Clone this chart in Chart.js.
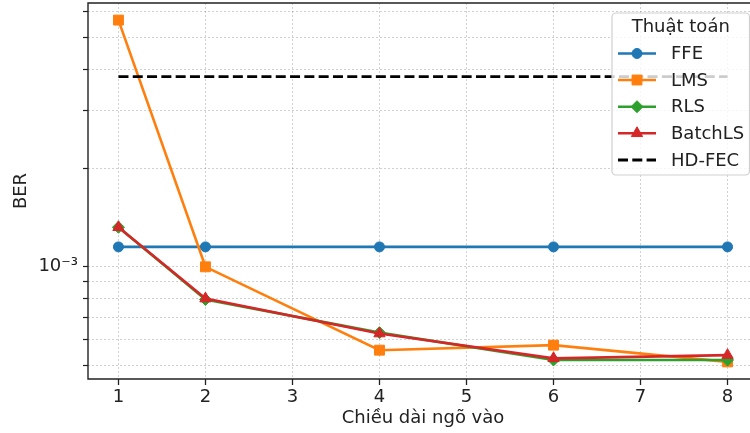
<!DOCTYPE html>
<html>
<head>
<meta charset="utf-8">
<script src="https://cdn.jsdelivr.net/npm/chart.js@4.4.1/dist/chart.umd.min.js"></script>
<style>
  html, body { margin: 0; padding: 0; background: #fff; overflow: hidden; }
  #wrap { width: 750px; height: 433px; overflow: hidden; position: relative; }
  #c { position: absolute; left: 0; top: 0; }
</style>
</head>
<body>
<div id="wrap"><canvas id="c" width="758" height="433"></canvas></div>
<script>
// ---- data ----
const inputLengths = [1, 2, 4, 6, 8];
const ffeBER     = [1.15e-3, 1.15e-3, 1.15e-3, 1.15e-3, 1.15e-3];
const lmsBER     = [5.65e-3, 1.0e-3, 5.57e-4, 5.77e-4, 5.13e-4];
const rlsBER     = [1.32e-3, 7.95e-4, 6.3e-4, 5.2e-4, 5.2e-4];
const batchLSBER = [1.32e-3, 8.0e-4, 6.26e-4, 5.26e-4, 5.38e-4];
const hdFecBER   = 3.8e-3;
const hdFecRange = [1, 8];
const seriesNames = ['FFE', 'LMS', 'RLS', 'BatchLS', 'HD-FEC'];
const xTickValues = [1, 2, 3, 4, 5, 6, 7, 8];
const yTickValues = [5e-4, 6e-4, 7e-4, 8e-4, 9e-4, 1e-3, 2e-3, 3e-3, 4e-3, 5e-3, 6e-3];
const legendTitle = 'Thuật toán';
const xTitle = 'Chiều dài ngõ vào';
const yTitle = 'BER';

const FONT = 'DejaVu Sans';
const colors = ['#1f77b4', '#ff7f0e', '#2ca02c', '#d62728', '#000000'];
const styles = ['circle', 'rect', 'rectRot', 'triangle', null];
const radii = [5, 7, 6, 6.5, 0];

const toPts = arr => inputLengths.map((x, i) => ({x: x, y: arr[i]}));
const seriesData = [ffeBER, lmsBER, rlsBER, batchLSBER];

const datasets = seriesData.map((arr, i) => ({
  label: seriesNames[i],
  data: toPts(arr),
  borderColor: colors[i],
  backgroundColor: colors[i],
  borderWidth: 2.6,
  pointStyle: styles[i],
  pointRadius: radii[i],
  pointBorderWidth: 1,
  pointBackgroundColor: colors[i],
  pointBorderColor: colors[i],
  tension: 0,
  order: 5 - i
}));
datasets.push({
  label: seriesNames[4],
  data: hdFecRange.map(x => ({x: x, y: hdFecBER})),
  borderColor: '#000',
  borderWidth: 2.8,
  borderDash: [10, 4.3],
  pointRadius: 0,
  order: 0
});

const spinePlugin = {
  id: 'spines',
  afterDatasetsDraw(chart) {
    const {ctx, chartArea: a} = chart;
    ctx.save();
    ctx.strokeStyle = '#222';
    ctx.lineWidth = 1.4;
    ctx.setLineDash([]);
    ctx.beginPath();
    ctx.moveTo(a.right, a.bottom); ctx.lineTo(a.left, a.bottom);
    ctx.lineTo(a.left, a.top); ctx.lineTo(a.right, a.top);
    ctx.lineTo(a.right, a.bottom);
    ctx.stroke();
    ctx.restore();
  }
};

function drawMarker(ctx, style, x, y, r) {
  Chart.helpers.drawPoint(ctx, {pointStyle: style, radius: r, borderWidth: 1, rotation: 0}, x, y);
}

const legendPlugin = {
  id: 'customLegend',
  afterDraw(chart) {
    const ctx = chart.ctx;
    const bx = 612, by = 13, bw = 137.5, bh = 162;
    ctx.save();
    ctx.beginPath();
    ctx.roundRect(bx, by, bw, bh, 4);
    ctx.fillStyle = 'rgba(255,255,255,0.8)';
    ctx.fill();
    ctx.strokeStyle = '#d0d0d0';
    ctx.lineWidth = 1.2;
    ctx.stroke();

    ctx.font = '18px "' + FONT + '"';
    ctx.fillStyle = '#222';
    ctx.textBaseline = 'middle';
    ctx.textAlign = 'center';
    ctx.fillText(legendTitle, bx + bw / 2, 27);

    ctx.textAlign = 'left';
    const rowY = [53.5, 80, 106.7, 133.3, 160];
    for (let i = 0; i < 5; i++) {
      const y = rowY[i];
      ctx.beginPath();
      ctx.strokeStyle = colors[i];
      ctx.lineWidth = i === 4 ? 2.8 : 2.6;
      ctx.setLineDash(i === 4 ? [10, 4.3] : []);
      ctx.moveTo(618, y); ctx.lineTo(656, y);
      ctx.stroke();
      ctx.setLineDash([]);
      if (styles[i]) {
        ctx.fillStyle = colors[i];
        ctx.strokeStyle = colors[i];
        ctx.lineWidth = 1;
        drawMarker(ctx, styles[i], 637, y, radii[i]);
      }
      ctx.fillStyle = '#222';
      ctx.fillText(seriesNames[i], 671, y + 1);
    }
    ctx.restore();
  }
};

new Chart(document.getElementById('c'), {
  type: 'line',
  data: { datasets: datasets },
  options: {
    responsive: false,
    animation: false,
    events: [],
    layout: { autoPadding: false, padding: { top: 3, right: 0, left: 0, bottom: 0 } },
    plugins: { legend: { display: false }, tooltip: { enabled: false } },
    scales: {
      x: {
        type: 'linear',
        min: 0.65,
        max: 8.35,
        afterBuildTicks: s => { s.ticks = xTickValues.map(v => ({value: v})); },
        afterFit: s => { s.height = 54; s.paddingLeft = 0; s.paddingRight = 0; s.paddingTop = 0; s.paddingBottom = 0; },
        ticks: {
          color: '#222',
          padding: 2,
          maxRotation: 0,
          autoSkip: false,
          font: { family: FONT, size: 18 },
          callback: v => String(v)
        },
        grid: {
          color: 'rgba(0,0,0,0.18)',
          lineWidth: 1,
          borderDash: [2, 2],
          tickColor: '#222',
          tickLength: 6,
          tickWidth: 1.3,
          tickBorderDash: []
        },
        border: { display: false, dash: [2, 2] },
        title: {
          display: true,
          text: xTitle,
          color: '#222',
          font: { family: FONT, size: 18 },
          padding: { top: 0, bottom: 4 }
        }
      },
      y: {
        type: 'logarithmic',
        min: 4.55e-4,
        max: 6.37e-3,
        afterBuildTicks: s => { s.ticks = yTickValues.map(v => ({value: v, major: Math.abs(Math.log10(v) + 3) < 1e-9})); },
        afterFit: s => { s.width = 88; s.paddingLeft = 0; s.paddingRight = 0; s.paddingTop = 0; s.paddingBottom = 0; },
        ticks: {
          color: '#222',
          padding: 5,
          autoSkip: false,
          font: { family: FONT, size: 18 },
          callback: v => (Math.abs(Math.log10(v) + 3) < 1e-9 ? '10⁻³' : '')
        },
        grid: {
          color: 'rgba(0,0,0,0.18)',
          lineWidth: 1,
          borderDash: [2, 2],
          tickColor: '#222',
          tickLength: 5,
          tickWidth: 1.2,
          tickBorderDash: []
        },
        border: { display: false, dash: [2, 2] },
        title: {
          display: true,
          text: yTitle,
          color: '#222',
          font: { family: FONT, size: 18 },
          padding: { top: 11, bottom: 0 }
        }
      }
    }
  },
  plugins: [spinePlugin, legendPlugin]
});
</script>
</body>
</html>
